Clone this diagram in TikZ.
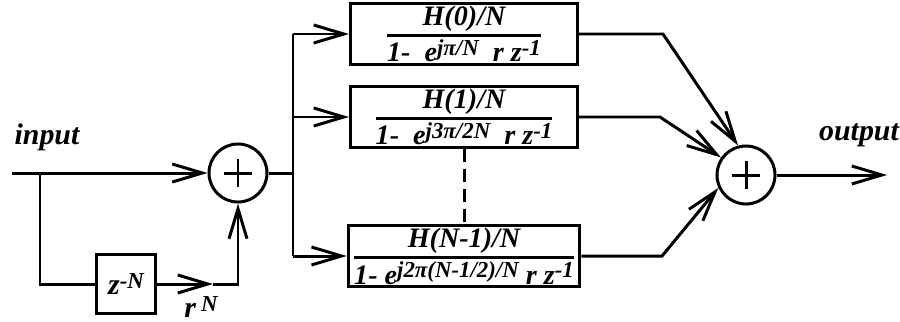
\documentclass[tikz,border=0pt]{standalone}
\usepackage{fontspec}
\setmainfont{Liberation Serif}
\usetikzlibrary{arrows.meta, positioning}

% stacked fraction with a heavy bar, text kept in the running font
\newcommand{\blockfrac}[2]{${\hbox{#1}\above 0.8pt\hbox{#2}}$}
% raised exponent, only slightly smaller than the base text
\newcommand{\upper}[1]{\raisebox{0.5ex}{\fontsize{6.5}{7}\selectfont #1}}

\begin{document}
\begin{tikzpicture}[
    x=0.01cm, y=-0.01cm,
    line width=0.85pt,
    font=\fontsize{8.5}{10}\selectfont\bfseries\itshape,
    sumnode/.style={circle, draw, minimum size=0.58cm, inner sep=0pt,
                    path picture={
                      \draw ([xshift=-0.14cm]path picture bounding box.center) -- ([xshift=0.14cm]path picture bounding box.center);
                      \draw ([yshift=-0.14cm]path picture bounding box.center) -- ([yshift=0.14cm]path picture bounding box.center);
                    }},
    filtbox/.style={rectangle, draw, minimum width=2.27cm, minimum height=0.58cm,
                    inner sep=0.5pt, font=\fontsize{8}{9}\selectfont\bfseries\itshape},
    delaybox/.style={rectangle, draw, minimum size=0.58cm, inner sep=1pt},
    arr/.style={-{Straight Barb[length=3mm, width=1.8mm]}},
    lbl/.style={inner sep=0pt},
  ]
    \useasboundingbox (0,0) rectangle (900,321);

    \node[sumnode] (sum1) at (238,173) {};
    \node[delaybox] (delay) at (126,284) {z\upper{-N}};

    \node[filtbox] (h0) at (464,34)  {\blockfrac{H(0)/N}{1-\ \ e\upper{jπ/N}\ \ r z\upper{-1}}};
    \node[filtbox] (h1) at (464,117) {\blockfrac{H(1)/N}{1-\ \ e\upper{j3π/2N}\ \ r z\upper{-1}}};
    \node[filtbox] (hN) at (464,256) {\blockfrac{H(N-1)/N}{1- e\upper{j2π(N-1/2)/N} r z\upper{-1}}};

    \node[sumnode] (sum2) at (746,175) {};

    \node[lbl] (inlbl)  at (47,137)  {input};
    \node[lbl] (outlbl) at (859,135) {output};
    \node[lbl] (rN)     at (201,307) {r\,\upper{N}};

    \coordinate (in)    at (12,173);
    \coordinate (split) at (40,173);
    \coordinate (rtip)  at (213,284);
    \coordinate (rturn) at (238,284);
    \coordinate (bus)   at (293,173);
    \coordinate (k0)    at (663,34);
    \coordinate (k1)    at (660,117);
    \coordinate (kN)    at (662,256);
    \coordinate (out)   at (887,175);

    % input side and feedforward comb
    \draw[arr] (in) -- (sum1);
    \draw (split) |- (delay);
    \draw[arr] (delay) -- (rtip);
    \draw[arr] (rtip) -- (rturn) -- (sum1);

    % distribution bus to the resonators
    \draw (sum1) -- (bus);
    \draw (bus |- h0.west) -- (bus |- hN.west);
    \foreach \h in {h0,h1,hN}
      \draw[arr] (bus |- \h.west) -- (\h);
    \draw[dash pattern=on 3.7pt off 2pt] (h1.south) -- (hN.north);

    % summing the branches
    \draw[arr] (h0) -- (k0) -- (sum2.105);
    \draw[arr] (h1) -- (k1) -- (sum2.145);
    \draw[arr] (hN) -- (kN) -- (sum2.205);
    \draw[arr] (sum2) -- (out);
\end{tikzpicture}
\end{document}
